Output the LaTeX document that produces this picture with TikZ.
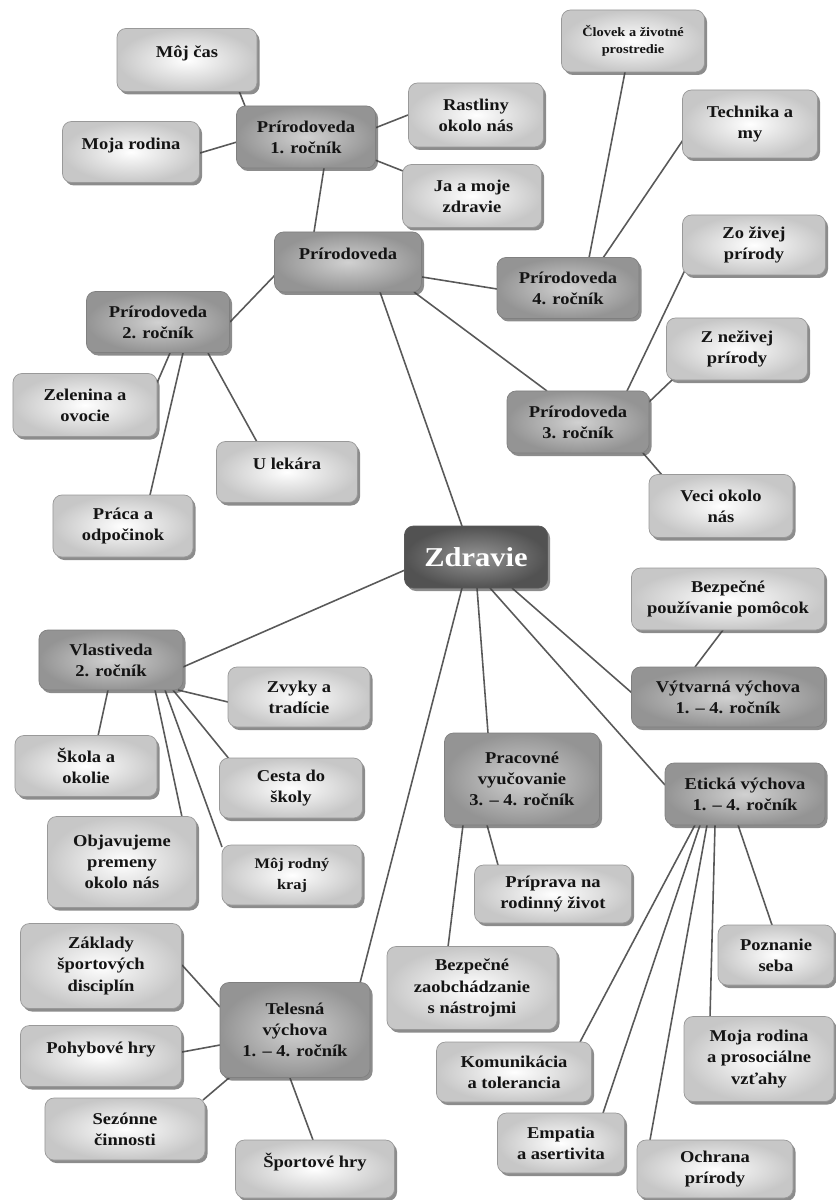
\documentclass[tikz,border=0pt]{standalone}
\usepackage{fontspec}
\setmainfont{Liberation Serif}[FakeStretch=1.12]
\usetikzlibrary{calc, shadows, backgrounds}

\tikzset{
    % Box styles - rounded, shaded, with shadow
    leaf/.style={
        rectangle,
        rounded corners=1.8mm,
        draw=black!40,
        line width=0.4pt,
        inner color=white,
        outer color=black!22,
        drop shadow={shadow xshift=0.5mm, shadow yshift=-0.6mm, fill=black!75, opacity=0.6},
        align=center,
        inner sep=1pt,
        text=black!92,
        font=\fontsize{9.4}{12}\selectfont\bfseries
    },
    topic/.style={
        leaf,
        draw=black!50,
        inner color=black!18,
        outer color=black!42
    },
    hub/.style={
        leaf,
        draw=black!65,
        inner color=black!42,
        outer color=black!68,
        text=white,
        font=\fontsize{15.5}{18}\selectfont\bfseries
    },
    oneline/.style={text depth=3.4mm},
    % Connector style - straight lines only
    link/.style={
        draw=black!65,
        line width=0.9pt
    }
}

\begin{document}
\begin{tikzpicture}[x=0.2mm, y=-0.2mm]
    \useasboundingbox (0,0) rectangle (835,1200);

    % Centre
    \node[hub, minimum width=28.6mm, minimum height=12.4mm] (zdravie) at (476,557) {Zdravie};

    % Prirodoveda branch
    \node[topic, oneline, minimum width=29.4mm, minimum height=12mm] (prir) at (348,262) {Prírodoveda};
    \node[topic, minimum width=27.8mm, minimum height=12.4mm] (prir1) at (306,137) {Prírodoveda\\1. ročník};
    \node[topic, minimum width=28.6mm, minimum height=12.2mm] (prir2) at (158,322) {Prírodoveda\\2. ročník};
    \node[topic, minimum width=28.4mm, minimum height=12.4mm] (prir3) at (578,422) {Prírodoveda\\3. ročník};
    \node[topic, minimum width=28.4mm, minimum height=12.2mm] (prir4) at (568,288) {Prírodoveda\\4. ročník};

    \node[leaf, oneline, minimum width=28mm, minimum height=12.6mm] (mojcas) at (187,60) {Môj čas};
    \node[leaf, oneline, minimum width=27.4mm, minimum height=12.2mm] (mojarod) at (131,152) {Moja rodina};
    \node[leaf, minimum width=27mm, minimum height=12.8mm] (rastliny) at (476,115) {Rastliny\\okolo nás};
    \node[leaf, minimum width=27.8mm, minimum height=12.6mm] (jazdrav) at (472,196) {Ja a moje\\zdravie};
    \node[leaf, minimum width=28.6mm, minimum height=12.4mm, font=\fontsize{7.3}{10}\selectfont\bfseries] (clovek) at (633,41) {Človek a životné\\prostredie};
    \node[leaf, minimum width=27mm, minimum height=13.6mm] (technika) at (750,124) {Technika a\\my};
    \node[leaf, minimum width=28.6mm, minimum height=12mm] (zivej) at (754,245) {Zo živej\\prírody};
    \node[leaf, minimum width=28.2mm, minimum height=12.4mm] (nezivej) at (737,349) {Z neživej\\prírody};
    \node[leaf, minimum width=28.8mm, minimum height=12.6mm] (veci) at (721,506) {Veci okolo\\nás};
    \node[leaf, minimum width=28.8mm, minimum height=12.6mm] (zelenina) at (85,405) {Zelenina a\\ovocie};
    \node[leaf, oneline, minimum width=28.2mm, minimum height=12.2mm] (ulekara) at (287,472) {U lekára};
    \node[leaf, minimum width=28mm, minimum height=12.4mm] (praca) at (123,526) {Práca a\\odpočinok};

    % Vlastiveda branch
    \node[topic, minimum width=28.8mm, minimum height=12mm] (vlast) at (111,660) {Vlastiveda\\2. ročník};
    \node[leaf, minimum width=28.4mm, minimum height=12mm] (zvyky) at (299,697) {Zvyky a\\tradície};
    \node[leaf, minimum width=28.4mm, minimum height=12.2mm] (skola) at (86,766) {Škola a\\okolie};
    \node[leaf, minimum width=28.6mm, minimum height=12mm] (cesta) at (291,788) {Cesta do\\školy};
    \node[leaf, minimum width=29.8mm, minimum height=18.2mm] (objav) at (122,862) {Objavujeme\\premeny\\okolo nás};
    \node[leaf, minimum width=28mm, minimum height=12mm, font=\fontsize{8.3}{12}\selectfont\bfseries] (rodnykraj) at (292,875) {Môj rodný\\kraj};

    % Vytvarna and Pracovne branches
    \node[topic, minimum width=38.6mm, minimum height=12mm] (vytvarna) at (728,697) {Výtvarná výchova\\1. -- 4. ročník};
    \node[leaf, minimum width=38.6mm, minimum height=12.4mm] (bezpouz) at (728,599) {Bezpečné\\používanie pomôcok};
    \node[topic, minimum width=31mm, minimum height=18.4mm] (pracovne) at (522,779) {Pracovné\\vyučovanie\\3. -- 4. ročník};
    \node[leaf, minimum width=31.4mm, minimum height=11.6mm] (priprava) at (553,894) {Príprava na\\rodinný život};
    \node[leaf, minimum width=34mm, minimum height=16.6mm] (bezzaob) at (472,988) {Bezpečné\\zaobchádzanie\\s nástrojmi};

    % Eticka branch
    \node[topic, minimum width=32mm, minimum height=12.4mm] (eticka) at (745,794) {Etická výchova\\1. -- 4. ročník};
    \node[leaf, minimum width=23.2mm, minimum height=12mm] (poznanie) at (776,955) {Poznanie\\seba};
    \node[leaf, minimum width=30mm, minimum height=17mm] (mojarod2) at (759,1059) {Moja rodina\\a prosociálne\\vzťahy};
    \node[leaf, minimum width=31mm, minimum height=12mm] (komunik) at (514,1072) {Komunikácia\\a tolerancia};
    \node[leaf, minimum width=25.4mm, minimum height=12mm] (empatia) at (561,1143) {Empatia\\a asertivita};
    \node[leaf, minimum width=31.2mm, minimum height=11.6mm] (ochrana) at (715,1169) {Ochrana\\prírody};

    % Telesna branch
    \node[topic, minimum width=30mm, minimum height=19mm] (telesna) at (295,1030) {Telesná\\výchova\\1. -- 4. ročník};
    \node[leaf, minimum width=32.2mm, minimum height=17mm] (zaklady) at (101,966) {Základy\\športových\\disciplín};
    \node[leaf, oneline, minimum width=32.2mm, minimum height=12.2mm] (pohyb) at (101,1056) {Pohybové hry};
    \node[leaf, minimum width=32mm, minimum height=12.4mm] (sezonne) at (125,1129) {Sezónne\\činnosti};
    \node[leaf, oneline, minimum width=31.8mm, minimum height=11.6mm] (sportove) at (315,1169) {Športové hry};

    % Connectors behind the boxes
    \begin{scope}[on background layer]
        \draw[link] ($(zdravie)+(-14,-31)$) -- ($(prir)+(32,30)$);
        \draw[link] ($(prir)+(-34,-30)$) -- ($(prir1)+(18,31)$);
        \draw[link] ($(prir)+(-72,12)$) -- ($(prir2)+(72,0)$);
        \draw[link] ($(prir)+(74,15)$) -- ($(prir4)+(-71,1)$);
        \draw[link] ($(prir)+(66,30)$) -- ($(prir3)+(-31,-31)$);

        \draw[link] ($(prir1)+(-61,-31)$) -- ($(mojcas)+(52,31)$);
        \draw[link] ($(prir1)+(-69,5)$) -- ($(mojarod)+(69,1)$);
        \draw[link] ($(prir1)+(69,-9)$) -- ($(rastliny)+(-68,0)$);
        \draw[link] ($(prir1)+(69,23)$) -- ($(jazdrav)+(-69,-25)$);

        \draw[link] ($(prir4)+(21,-30)$) -- ($(clovek)+(-8,31)$);
        \draw[link] ($(prir4)+(35,-30)$) -- ($(technika)+(-67,16)$);

        \draw[link] ($(prir3)+(49,-31)$) -- ($(zivej)+(-69,25)$);
        \draw[link] ($(prir3)+(71,-20)$) -- ($(nezivej)+(-65,31)$);
        \draw[link] ($(prir3)+(65,31)$) -- ($(veci)+(-59,-31)$);

        \draw[link] ($(prir2)+(12,31)$) -- ($(zelenina)+(72,-22)$);
        \draw[link] ($(prir2)+(25,31)$) -- ($(praca)+(27,-31)$);
        \draw[link] ($(prir2)+(50,31)$) -- ($(ulekara)+(-30,-30)$);

        \draw[link] ($(zdravie)+(-71,13)$) -- ($(vlast)+(72,7)$);
        \draw[link] ($(vlast)+(67,30)$) -- ($(zvyky)+(-71,5)$);
        \draw[link] ($(vlast)+(-3,30)$) -- ($(skola)+(12,-30)$);
        \draw[link] ($(vlast)+(62,30)$) -- ($(cesta)+(-61,-28)$);
        \draw[link] ($(vlast)+(44,30)$) -- ($(objav)+(60,-45)$);
        \draw[link] ($(vlast)+(54,30)$) -- ($(rodnykraj)+(-70,-28)$);

        \draw[link] ($(zdravie)+(-14,31)$) -- ($(telesna)+(65,-47)$);
        \draw[link] ($(zdravie)+(1,31)$) -- ($(pracovne)+(-34,-46)$);
        \draw[link] ($(zdravie)+(14,31)$) -- ($(eticka)+(-80,-9)$);
        \draw[link] ($(zdravie)+(36,31)$) -- ($(vytvarna)+(-96,-4)$);

        \draw[link] ($(vytvarna)+(-33,-30)$) -- ($(bezpouz)+(-5,31)$);
        \draw[link] ($(pracovne)+(-59,46)$) -- ($(bezzaob)+(-24,-41)$);
        \draw[link] ($(pracovne)+(-35,46)$) -- ($(priprava)+(-55,-29)$);

        \draw[link] ($(eticka)+(-50,31)$) -- ($(komunik)+(66,-30)$);
        \draw[link] ($(eticka)+(-45,31)$) -- ($(empatia)+(42,-30)$);
        \draw[link] ($(eticka)+(-38,31)$) -- ($(ochrana)+(-65,-29)$);
        \draw[link] ($(eticka)+(-30,31)$) -- ($(mojarod2)+(-49,-42)$);
        \draw[link] ($(eticka)+(-7,31)$) -- ($(poznanie)+(-4,-30)$);

        \draw[link] ($(telesna)+(-75,-23)$) -- ($(zaklady)+(81,-1)$);
        \draw[link] ($(telesna)+(-75,15)$) -- ($(pohyb)+(81,-4)$);
        \draw[link] ($(telesna)+(-65,47)$) -- ($(sezonne)+(78,-29)$);
        \draw[link] ($(telesna)+(-5,48)$) -- ($(sportove)+(-2,-29)$);
    \end{scope}
\end{tikzpicture}
\end{document}
